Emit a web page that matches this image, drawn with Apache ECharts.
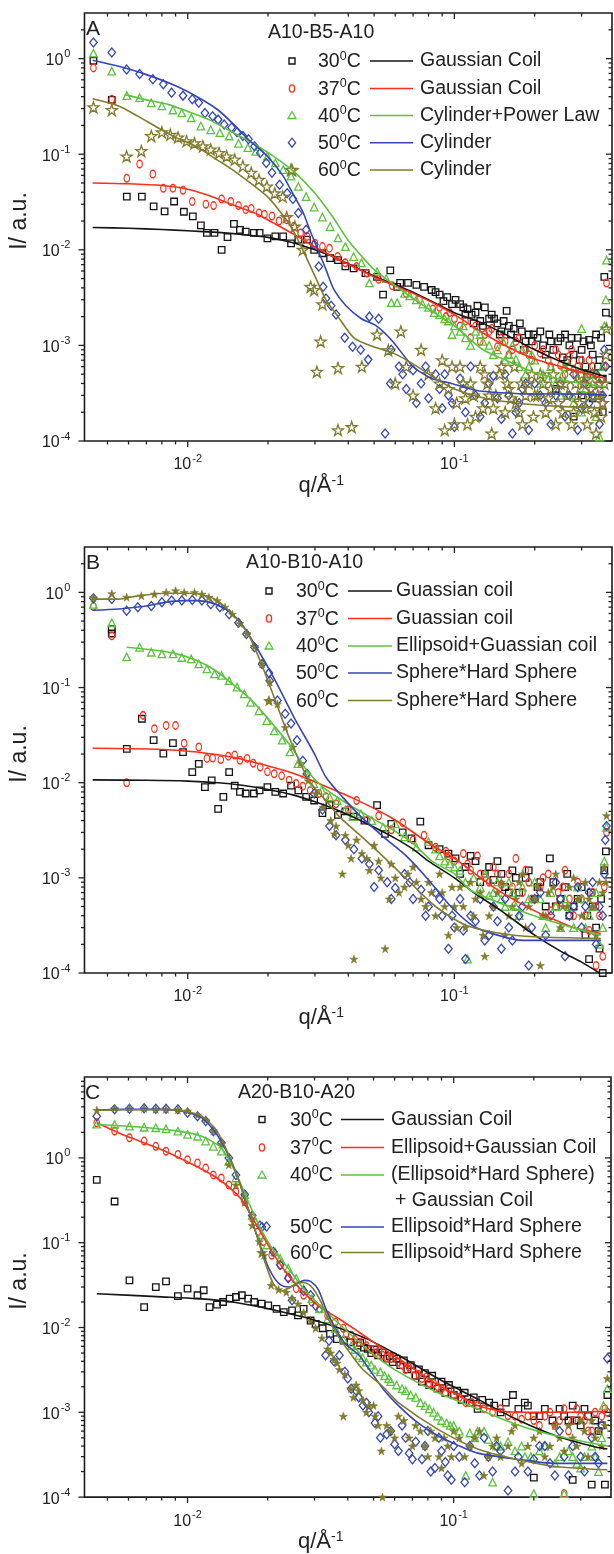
<!DOCTYPE html>
<html><head><meta charset="utf-8">
<script src="https://cdn.jsdelivr.net/npm/echarts@6/dist/echarts.min.js"></script>
<style>html,body{margin:0;padding:0;background:#fff}#c{width:614px;height:1554px}</style>
</head><body><div id="c"></div>
<script>
// ---------------- axis ranges & ticks ----------------
const Q_MIN = 0.0041, Q_MAX = 0.39;
const I_MIN = 1e-4;
const I_MAX = [3, 3, 9];
const xMajorTicks = [0.01, 0.1];
const xMinorTicks = [0.005,0.006,0.007,0.008,0.009,0.02,0.03,0.04,0.05,0.06,0.07,0.08,0.09,0.2,0.3];
const yMajorTicks = [1e-4,1e-3,1e-2,1e-1,1];
const yMinorTicks = [2e-4,3e-4,4e-4,5e-4,6e-4,7e-4,8e-4,9e-4,2e-3,3e-3,4e-3,5e-3,6e-3,7e-3,8e-3,9e-3,
  0.02,0.03,0.04,0.05,0.06,0.07,0.08,0.09,0.2,0.3,0.4,0.5,0.6,0.7,0.8,0.9,2,3,4,5,6,7,8,9];

// ---------------- text ----------------
const panelLetters = ['A','B','C'];
const legendTitles = ['A10-B5-A10','A10-B10-A10','A20-B10-A20'];
const tempLabels = ['30','37','40','50','60'];
const fitLabelsA = ['Gaussian Coil','Gaussian Coil','Cylinder+Power Law','Cylinder','Cylinder'];
const fitLabelsB = ['Guassian coil','Guassian coil','Ellipsoid+Guassian coil','Sphere*Hard Sphere','Sphere*Hard Sphere'];
const fitLabelsC = ['Gaussian Coil','Ellipsoid+Gaussian Coil','(Ellipsoid*Hard Sphere)','Ellipsoid*Hard Sphere','Ellipsoid*Hard Sphere'];
const fitLabelC40cont = '+ Gaussian Coil';

// ---------------- Panel A data [q, I] ----------------
const A30 = [[0.00443,0.95],[0.00519,0.37],[0.00591,0.036],[0.00673,0.036],[0.00745,0.0285],[0.00819,0.0252],[0.00889,0.032],[0.00967,0.025],[0.01045,0.0224],[0.0112,0.018],[0.0118,0.015],[0.0126,0.015],[0.0134,0.010],[0.0141,0.0136],[0.0149,0.0187],[0.0157,0.0162],[0.0165,0.0155],[0.0177,0.015],[0.0186,0.015],[0.0199,0.0132],[0.0213,0.0138],[0.0228,0.0138],[0.0244,0.0117],[0.026,0.0128],[0.028,0.0128],[0.0298,0.0100],[0.032,0.0092],[0.0342,0.0082],[0.0366,0.0078],[0.039,0.0067],[0.0419,0.0064],[0.0464,0.0057],[0.0513,0.0052],[0.054,0.0034],[0.0575,0.0061],[0.061,0.0041],[0.0626,0.0045],[0.067,0.0045],[0.072,0.0043],[0.077,0.0041],[0.0822,0.0038],[0.088,0.0034],[0.094,0.0032],[0.101,0.0030],[0.105,0.0027],[0.108,0.0025],[0.112,0.0024],[0.116,0.0021],[0.12,0.0022],[0.125,0.0018],[0.13,0.0025],[0.135,0.0019],[0.141,0.0019],[0.145,0.0017],[0.15,0.0014],[0.157,0.0023],[0.16,0.0016],[0.167,0.0015],[0.172,0.0012],[0.179,0.0014],[0.185,0.0011],[0.19,0.0013],[0.198,0.0013],[0.205,0.0012],[0.215,0.0010],[0.227,0.0013],[0.235,0.0009],[0.245,0.0011],[0.255,0.00075],[0.26,0.0013],[0.27,0.0010],[0.28,0.0008],[0.29,0.0012],[0.3,0.0009],[0.31,0.0006],[0.32,0.00114],[0.33,0.0008],[0.34,0.0013],[0.35,0.0007],[0.36,0.00045],[0.365,0.0052],[0.37,0.0022],[0.28,0.00018],[0.33,0.00028],
  [0.085,0.0036],[0.091,0.0029],[0.098,0.0027],[0.11,0.0021],[0.118,0.0017],[0.122,0.0026],[0.128,0.0016],[0.138,0.0021],[0.148,0.0013],[0.153,0.0018],[0.163,0.0013],[0.176,0.0017],[0.182,0.0009],[0.195,0.0011],[0.21,0.0014],[0.22,0.0008],[0.23,0.0011],[0.25,0.0012],[0.265,0.0007],[0.275,0.0012],[0.295,0.0007],[0.305,0.0011],[0.315,0.0005],[0.325,0.001],[0.345,0.0006],[0.355,0.0012],[0.24,0.00035],[0.3,0.0003],[0.36,0.0002]];
const A37 = [[0.00443,0.80],[0.00519,0.375],[0.00591,0.056],[0.0066,0.079],[0.0074,0.062],[0.0081,0.044],[0.0088,0.044],[0.0096,0.042],[0.0104,0.032],[0.0117,0.030],[0.0125,0.029],[0.0134,0.034],[0.0145,0.032],[0.0155,0.029],[0.0165,0.0263],[0.0173,0.027],[0.0185,0.0243],[0.0194,0.0235],[0.0207,0.0226],[0.022,0.020],[0.0235,0.0206],[0.025,0.0175],[0.0265,0.015],[0.028,0.0138],[0.030,0.0117],[0.032,0.0108],[0.034,0.0104],[0.0365,0.0085],[0.039,0.0073],[0.043,0.0067],[0.047,0.0057],[0.052,0.0049],[0.0585,0.0042],[0.066,0.0035],[0.074,0.0030],[0.083,0.0024],[0.093,0.0020],[0.10,0.0019],[0.105,0.0016],[0.115,0.0012],[0.12,0.0016],[0.13,0.0013],[0.138,0.0015],[0.145,0.00097],[0.155,0.0011],[0.165,0.0009],[0.175,0.0012],[0.19,0.0008],[0.2,0.0010],[0.21,0.00083],[0.225,0.0007],[0.24,0.0009],[0.25,0.00062],[0.27,0.00077],[0.285,0.0005],[0.3,0.0007],[0.31,0.00045],[0.33,0.0006],[0.35,0.0004],[0.36,0.00025],[0.372,0.0045],
  [0.088,0.0025],[0.096,0.0022],[0.11,0.0018],[0.125,0.0011],[0.135,0.0014],[0.15,0.0012],[0.16,0.0008],[0.17,0.0011],[0.185,0.0009],[0.195,0.0007],[0.215,0.0009],[0.23,0.0006],[0.245,0.0008],[0.26,0.0005],[0.275,0.0009],[0.29,0.0006],[0.305,0.0004],[0.32,0.0007],[0.34,0.0005],[0.355,0.0003],[0.365,0.0006]];
const A40 = [[0.00443,1.14],[0.00519,0.74],[0.00591,0.41],[0.0066,0.39],[0.0073,0.345],[0.0080,0.32],[0.0088,0.29],[0.0095,0.27],[0.0103,0.24],[0.0112,0.197],[0.0122,0.18],[0.0132,0.168],[0.0143,0.155],[0.0155,0.13],[0.0168,0.117],[0.018,0.107],[0.0199,0.095],[0.0213,0.081],[0.0228,0.069],[0.0244,0.059],[0.026,0.046],[0.0278,0.036],[0.0298,0.028],[0.032,0.022],[0.0342,0.0175],[0.0366,0.0133],[0.039,0.0108],[0.0419,0.0085],[0.0448,0.0073],[0.048,0.0045],[0.0513,0.0059],[0.0555,0.0050],[0.058,0.0028],[0.061,0.0028],[0.065,0.0035],[0.072,0.0030],[0.08,0.0025],[0.088,0.0021],[0.095,0.0018],[0.10,0.0016],[0.105,0.0014],[0.11,0.0012],[0.12,0.0014],[0.128,0.0011],[0.135,0.0010],[0.145,0.0009],[0.152,0.0011],[0.16,0.0008],[0.17,0.00072],[0.18,0.0009],[0.19,0.0006],[0.2,0.0007],[0.215,0.0005],[0.23,0.0006],[0.24,0.0004],[0.255,0.0005],[0.27,0.0003],[0.29,0.00045],[0.3,0.0015],[0.31,0.00035],[0.33,0.0004],[0.35,0.0003],[0.372,0.0078],[0.37,0.003],
  [0.068,0.0033],[0.076,0.0027],[0.084,0.0022],[0.092,0.0019],[0.098,0.0013],[0.108,0.0016],[0.115,0.001],[0.125,0.0013],[0.14,0.0008],[0.155,0.0007],[0.165,0.001],[0.175,0.0006],[0.185,0.0005],[0.195,0.0008],[0.21,0.0004],[0.225,0.00045],[0.25,0.0003],[0.26,0.0006],[0.28,0.00025],[0.3,0.0002],[0.32,0.0005],[0.34,0.00018],[0.36,0.0006],[0.365,0.0016],[0.35,0.00011]];
const A50 = [[0.00443,1.47],[0.00519,1.16],[0.0059,0.77],[0.0066,0.69],[0.0074,0.61],[0.0081,0.54],[0.0087,0.44],[0.0096,0.41],[0.0104,0.375],[0.011,0.345],[0.0116,0.27],[0.0124,0.25],[0.013,0.23],[0.0137,0.205],[0.0146,0.19],[0.0153,0.17],[0.0161,0.155],[0.0169,0.143],[0.0178,0.121],[0.0187,0.103],[0.0197,0.081],[0.0207,0.064],[0.0221,0.048],[0.0236,0.039],[0.0248,0.034],[0.026,0.0243],[0.0278,0.0162],[0.0298,0.0113],[0.031,0.0067],[0.0322,0.0041],[0.033,0.0031],[0.0345,0.0026],[0.036,0.0021],[0.0388,0.0012],[0.0415,0.00097],[0.0445,0.0009],[0.0475,0.00071],[0.048,0.002],[0.052,0.0019],[0.055,0.00012],[0.0575,0.0004],[0.062,0.0006],[0.066,0.00035],[0.07,0.00055],[0.075,0.0004],[0.08,0.00028],[0.085,0.0005],[0.09,0.00022],[0.095,0.0003],[0.1,0.00014],[0.105,0.00045],[0.11,0.0002],[0.12,0.0003],[0.13,0.00025],[0.14,0.00048],[0.15,0.00017],[0.16,0.0003],[0.17,0.0002],[0.18,0.00035],[0.19,0.00013],[0.2,0.0004],[0.22,0.00025],[0.24,0.0003],[0.26,0.00018],[0.28,0.0005],[0.3,0.00022],[0.33,0.0003],[0.35,0.00015],[0.37,0.0006],
  [0.058,0.0009],[0.064,0.0005],[0.072,0.00025],[0.078,0.0006],[0.088,0.00035],[0.092,0.0005],[0.098,0.00025],[0.108,0.00035],[0.115,0.0006],[0.125,0.00018],[0.135,0.0004],[0.145,0.00028],[0.155,0.0005],[0.165,0.00012],[0.175,0.00025],[0.185,0.0004],[0.21,0.0003],[0.23,0.00015],[0.25,0.0004],[0.27,0.0003],[0.29,0.00013],[0.31,0.0004],[0.32,0.00025],[0.34,0.0005],[0.36,0.0003],[0.365,0.0009]];
const A60 = [[0.00443,0.31],[0.00519,0.29],[0.0059,0.095],[0.0067,0.108],[0.0073,0.155],[0.0080,0.17],[0.0086,0.16],[0.0092,0.15],[0.0099,0.137],[0.0106,0.13],[0.0114,0.121],[0.0122,0.112],[0.0131,0.103],[0.014,0.095],[0.015,0.088],[0.0161,0.075],[0.0173,0.064],[0.0185,0.054],[0.0198,0.046],[0.0212,0.039],[0.0227,0.036],[0.0244,0.069],[0.0235,0.022],[0.0252,0.0175],[0.027,0.010],[0.0289,0.0041],[0.0298,0.0038],[0.032,0.0027],[0.0315,0.0011],[0.0305,0.00053],[0.0366,0.00058],[0.0366,0.00013],[0.0412,0.00014],[0.045,0.0006],[0.0513,0.0013],[0.0565,0.00089],[0.06,0.0004],[0.063,0.0014],[0.066,0.0006],[0.07,0.0003],[0.075,0.0009],[0.08,0.0005],[0.085,0.00022],[0.09,0.0007],[0.095,0.00035],[0.1,0.00015],[0.105,0.0006],[0.11,0.00028],[0.115,0.0004],[0.12,0.00018],[0.13,0.0005],[0.135,0.0003],[0.14,0.00022],[0.15,0.0006],[0.16,0.00035],[0.17,0.00025],[0.18,0.00015],[0.19,0.0004],[0.2,0.0003],[0.21,0.0005],[0.22,0.0002],[0.23,0.00035],[0.245,0.00025],[0.26,0.0004],[0.275,0.00015],[0.29,0.0003],[0.3,0.0005],[0.31,0.00022],[0.325,0.00035],[0.34,0.00012],[0.35,0.0004],[0.36,0.00025],[0.372,0.0015],
  [0.088,0.0004],[0.092,0.00013],[0.098,0.0006],[0.102,0.00025],[0.108,0.0004],[0.112,0.00015],[0.118,0.0003],[0.125,0.0006],[0.128,0.00022],[0.133,0.0004],[0.138,0.00012],[0.143,0.0003],[0.148,0.0005],[0.155,0.0002],[0.158,0.0004],[0.163,0.00028],[0.168,0.0006],[0.175,0.0002],[0.178,0.0004],[0.185,0.0003],[0.195,0.0005],[0.198,0.00018],[0.205,0.0003],[0.215,0.0004],[0.225,0.00028],[0.235,0.0005],[0.24,0.00015],[0.25,0.0004],[0.255,0.0002],[0.265,0.0003],[0.27,0.0006],[0.28,0.0002],[0.285,0.0004],[0.295,0.00025],[0.305,0.0004],[0.315,0.00015],[0.32,0.0003],[0.33,0.0005],[0.335,0.0002],[0.345,0.0003],[0.355,0.00018],[0.365,0.0004],[0.37,0.0008]];
const fitA30 = [[0.0044,0.0171],[0.006,0.0168],[0.008,0.0163],[0.01,0.0158],[0.013,0.0152],[0.016,0.0145],[0.02,0.0135],[0.025,0.0118],[0.03,0.0100],[0.035,0.0085],[0.04,0.0071],[0.05,0.0053],[0.06,0.0043],[0.07,0.0036],[0.08,0.0030],[0.1,0.0022],[0.128,0.0017],[0.16,0.00125],[0.2,0.0009],[0.25,0.00068],[0.3,0.00056],[0.37,0.00047]];
const fitA37 = [[0.0044,0.05],[0.006,0.049],[0.008,0.047],[0.01,0.043],[0.012,0.037],[0.015,0.029],[0.018,0.024],[0.021,0.019],[0.025,0.0145],[0.03,0.0107],[0.035,0.0085],[0.042,0.0066],[0.05,0.0052],[0.06,0.0042],[0.07,0.0035],[0.085,0.0027],[0.1,0.0021],[0.128,0.00135],[0.16,0.00095],[0.2,0.00072],[0.25,0.0006],[0.3,0.00052],[0.37,0.00045]];
const fitA40 = [[0.0058,0.42],[0.007,0.37],[0.0085,0.33],[0.01,0.28],[0.012,0.23],[0.015,0.165],[0.018,0.125],[0.021,0.095],[0.025,0.066],[0.03,0.039],[0.035,0.022],[0.04,0.0125],[0.045,0.0085],[0.05,0.0062],[0.06,0.0042],[0.07,0.0031],[0.08,0.0024],[0.1,0.0016],[0.128,0.0009],[0.16,0.00068],[0.2,0.00052],[0.25,0.00044],[0.3,0.0004],[0.37,0.00037]];
const fitA50 = [[0.0044,0.96],[0.0055,0.83],[0.007,0.68],[0.009,0.52],[0.011,0.39],[0.013,0.29],[0.015,0.2],[0.017,0.14],[0.0199,0.095],[0.0228,0.059],[0.025,0.037],[0.027,0.025],[0.029,0.015],[0.031,0.0095],[0.033,0.0062],[0.0354,0.0038],[0.0392,0.0026],[0.0448,0.0019],[0.051,0.0016],[0.0587,0.0011],[0.07,0.0006],[0.0824,0.00045],[0.0975,0.0004],[0.12,0.00034],[0.15,0.00032],[0.2,0.00031],[0.3,0.00031],[0.37,0.0003]];
const fitA60 = [[0.0044,0.38],[0.0055,0.32],[0.0065,0.25],[0.0077,0.19],[0.009,0.15],[0.0108,0.12],[0.0125,0.092],[0.0147,0.069],[0.017,0.051],[0.0199,0.036],[0.022,0.026],[0.0244,0.0175],[0.027,0.010],[0.030,0.0053],[0.033,0.0030],[0.0366,0.0020],[0.042,0.0012],[0.05,0.00096],[0.059,0.00083],[0.07,0.00064],[0.085,0.00045],[0.1,0.00035],[0.13,0.00028],[0.17,0.00025],[0.25,0.00023],[0.37,0.00022]];

// ---------------- Panel B data ----------------
const B30 = [[0.00519,0.41],[0.00519,0.37],[0.00591,0.0227],[0.00673,0.047],[0.00745,0.028],[0.0081,0.0202],[0.0088,0.026],[0.0096,0.021],[0.0104,0.0129],[0.011,0.0158],[0.0116,0.009],[0.0123,0.0106],[0.013,0.0053],[0.0136,0.0071],[0.0143,0.0129],[0.015,0.0093],[0.0157,0.0080],[0.0165,0.0077],[0.0177,0.0077],[0.0186,0.0083],[0.0199,0.009],[0.0213,0.008],[0.0228,0.0077],[0.0244,0.0093],[0.026,0.0083],[0.0278,0.0071],[0.0298,0.0065],[0.032,0.0048],[0.034,0.0058],[0.0366,0.0046],[0.039,0.005],[0.0419,0.0044],[0.046,0.0040],[0.0513,0.0058],[0.0549,0.0029],[0.058,0.0037],[0.064,0.0030],[0.069,0.0026],[0.0745,0.0039],[0.08,0.0022],[0.088,0.0020],[0.095,0.0018],[0.101,0.0016],[0.11,0.0013],[0.12,0.0015],[0.13,0.0011],[0.14,0.00095],[0.145,0.0015],[0.155,0.0008],[0.165,0.0012],[0.175,0.0007],[0.185,0.0010],[0.2,0.0006],[0.21,0.0009],[0.228,0.0016],[0.24,0.0005],[0.26,0.0008],[0.27,0.0004],[0.29,0.0006],[0.31,0.00025],[0.33,0.0005],[0.35,0.00018],[0.37,0.0019],
  [0.105,0.0011],[0.115,0.0017],[0.125,0.0009],[0.135,0.0013],[0.15,0.0011],[0.16,0.0007],[0.17,0.001],[0.19,0.0012],[0.205,0.0008],[0.22,0.0005],[0.235,0.0009],[0.25,0.0006],[0.265,0.0011],[0.28,0.0005],[0.3,0.0008],[0.315,0.0004],[0.325,0.0007],[0.34,0.0003],[0.355,0.0006],[0.365,0.0012],[0.32,0.00014],[0.36,0.0001]];
const B37 = [[0.00443,0.71],[0.00519,0.35],[0.0059,0.0100],[0.0068,0.051],[0.0075,0.037],[0.0083,0.040],[0.009,0.040],[0.0097,0.026],[0.011,0.0237],[0.0118,0.018],[0.0124,0.0182],[0.0133,0.0175],[0.0142,0.019],[0.015,0.0195],[0.0157,0.0172],[0.0167,0.018],[0.0176,0.016],[0.0187,0.0146],[0.0199,0.0130],[0.0211,0.0124],[0.0225,0.0118],[0.024,0.0106],[0.0255,0.0098],[0.027,0.0092],[0.0288,0.0083],[0.031,0.0077],[0.033,0.0071],[0.036,0.006],[0.04,0.0052],[0.043,0.0065],[0.047,0.004],[0.052,0.0045],[0.058,0.0032],[0.064,0.0038],[0.07,0.0025],[0.077,0.0028],[0.085,0.0021],[0.093,0.0019],[0.1,0.0015],[0.108,0.0018],[0.115,0.0012],[0.122,0.0017],[0.13,0.001],[0.14,0.0013],[0.15,0.00085],[0.16,0.0011],[0.17,0.0016],[0.18,0.0007],[0.19,0.0009],[0.2,0.0006],[0.215,0.0010],[0.23,0.00045],[0.245,0.0007],[0.26,0.0012],[0.28,0.0004],[0.3,0.0006],[0.32,0.00028],[0.34,0.0005],[0.36,0.00015],[0.372,0.003],
  [0.095,0.0017],[0.112,0.0014],[0.125,0.0011],[0.135,0.0009],[0.145,0.0011],[0.165,0.0008],[0.185,0.0012],[0.195,0.0006],[0.21,0.0008],[0.225,0.0011],[0.24,0.0005],[0.255,0.0008],[0.27,0.0006],[0.29,0.0009],[0.31,0.0004],[0.33,0.0007],[0.35,0.0004],[0.365,0.0008],[0.34,0.00012]];
const B40 = [[0.00443,0.75],[0.00519,0.48],[0.0059,0.21],[0.0066,0.265],[0.0073,0.235],[0.008,0.226],[0.0088,0.226],[0.0095,0.207],[0.0103,0.2],[0.011,0.177],[0.0118,0.157],[0.0126,0.139],[0.0134,0.134],[0.0143,0.118],[0.0153,0.101],[0.0163,0.086],[0.0172,0.07],[0.0185,0.057],[0.0198,0.045],[0.0211,0.035],[0.0226,0.028],[0.0242,0.0211],[0.0259,0.0159],[0.0277,0.0124],[0.0297,0.0098],[0.0318,0.0083],[0.034,0.0071],[0.0364,0.0065],[0.039,0.0052],[0.0417,0.0044],[0.0446,0.0047],[0.049,0.004],[0.054,0.0034],[0.06,0.0037],[0.065,0.0027],[0.072,0.0021],[0.08,0.0024],[0.088,0.0017],[0.096,0.0014],[0.105,0.0012],[0.112,0.00014],[0.118,0.0010],[0.125,0.0008],[0.135,0.00065],[0.145,0.0009],[0.155,0.0005],[0.165,0.0007],[0.175,0.0004],[0.19,0.0006],[0.2,0.0009],[0.215,0.0004],[0.23,0.0007],[0.25,0.0003],[0.27,0.0005],[0.29,0.0008],[0.31,0.0003],[0.33,0.0005],[0.35,0.0002],[0.372,0.0034],
  [0.085,0.002],[0.092,0.0015],[0.1,0.0013],[0.11,0.0009],[0.13,0.0011],[0.14,0.0007],[0.15,0.0006],[0.16,0.0009],[0.17,0.0005],[0.18,0.0008],[0.21,0.0006],[0.22,0.0003],[0.24,0.0005],[0.26,0.0006],[0.28,0.0003],[0.3,0.0006],[0.32,0.0004],[0.34,0.0007],[0.36,0.0003],[0.365,0.0015]];
const B50 = [[0.00443,0.87],[0.00519,0.85],[0.0059,0.64],[0.0065,0.70],[0.0073,0.72],[0.008,0.79],[0.0087,0.82],[0.0095,0.82],[0.0104,0.83],[0.0113,0.82],[0.0122,0.75],[0.0132,0.70],[0.0143,0.59],[0.0155,0.48],[0.0166,0.366],[0.0178,0.265],[0.019,0.177],[0.0203,0.118],[0.0217,0.073],[0.0232,0.053],[0.0244,0.042],[0.0257,0.028],[0.027,0.017],[0.028,0.0124],[0.0298,0.0077],[0.032,0.0052],[0.034,0.0035],[0.036,0.0028],[0.039,0.0025],[0.042,0.0020],[0.045,0.0016],[0.048,0.0014],[0.052,0.0012],[0.056,0.0009],[0.06,0.00078],[0.065,0.0011],[0.07,0.0006],[0.075,0.00075],[0.08,0.0005],[0.085,0.0007],[0.09,0.0004],[0.095,0.00018],[0.1,0.0003],[0.105,0.0006],[0.11,0.00014],[0.12,0.00035],[0.13,0.00022],[0.14,0.0005],[0.15,0.00018],[0.16,0.0003],[0.175,0.0004],[0.19,0.00012],[0.2,0.0006],[0.22,0.00025],[0.24,0.0009],[0.26,0.00015],[0.28,0.0005],[0.3,0.0003],[0.32,0.0007],[0.34,0.0002],[0.36,0.0004],[0.372,0.0035],
  [0.05,0.0008],[0.058,0.0006],[0.068,0.0009],[0.078,0.0004],[0.088,0.0006],[0.098,0.0004],[0.108,0.00028],[0.115,0.0004],[0.125,0.0006],[0.135,0.00025],[0.145,0.00035],[0.155,0.0006],[0.165,0.00022],[0.18,0.0005],[0.195,0.0003],[0.21,0.0007],[0.23,0.0004],[0.25,0.0006],[0.27,0.0004],[0.29,0.0008],[0.31,0.0005],[0.33,0.0009],[0.35,0.0005],[0.365,0.0011],[0.368,0.0025]];
const B60 = [[0.00443,0.88],[0.00519,0.97],[0.0059,0.89],[0.0067,0.92],[0.0075,0.96],[0.0083,1.0],[0.009,1.04],[0.0097,1.0],[0.0106,1.0],[0.0113,0.96],[0.012,0.89],[0.0129,0.82],[0.0138,0.70],[0.0147,0.59],[0.0157,0.47],[0.0167,0.37],[0.0178,0.27],[0.019,0.177],[0.0201,0.073],[0.0203,0.114],[0.0217,0.067],[0.0232,0.038],[0.0248,0.0237],[0.0265,0.016],[0.0283,0.0105],[0.0302,0.0077],[0.0322,0.0055],[0.0344,0.004],[0.0355,0.0029],[0.038,0.0011],[0.04,0.0022],[0.042,0.00014],[0.045,0.0018],[0.048,0.0012],[0.052,0.0015],[0.055,0.00018],[0.057,0.0006],[0.06,0.001],[0.065,0.0008],[0.07,0.0013],[0.075,0.0006],[0.08,0.0009],[0.085,0.0004],[0.09,0.0007],[0.095,0.00025],[0.1,0.0005],[0.105,0.0008],[0.11,0.0003],[0.12,0.0006],[0.13,0.00015],[0.135,0.0004],[0.145,0.0007],[0.155,0.00025],[0.165,0.0005],[0.175,0.0009],[0.185,0.0003],[0.2,0.0006],[0.21,0.00012],[0.22,0.0004],[0.235,0.0008],[0.25,0.0003],[0.265,0.0005],[0.28,0.001],[0.3,0.0004],[0.32,0.0006],[0.34,0.00025],[0.36,0.0007],[0.372,0.0045],
  [0.036,0.0035],[0.039,0.0028],[0.041,0.0016],[0.043,0.0025],[0.047,0.0016],[0.05,0.0022],[0.053,0.001],[0.058,0.0014],[0.062,0.0007],[0.067,0.0011],[0.072,0.0009],[0.078,0.0005],[0.082,0.0007],[0.088,0.0011],[0.092,0.0005],[0.098,0.0008],[0.102,0.0003],[0.108,0.0005],[0.115,0.0009],[0.118,0.0004],[0.125,0.0007],[0.128,0.00025],[0.14,0.0005],[0.15,0.0009],[0.16,0.0004],[0.17,0.0006],[0.18,0.0011],[0.19,0.0005],[0.205,0.0008],[0.215,0.0004],[0.225,0.0007],[0.24,0.0011],[0.255,0.0005],[0.27,0.0008],[0.29,0.0006],[0.31,0.0009],[0.33,0.0005],[0.35,0.0009],[0.365,0.0013],[0.37,0.0009]];
const fitB30 = [[0.0044,0.0107],[0.007,0.0106],[0.01,0.0104],[0.013,0.0100],[0.016,0.0094],[0.02,0.0085],[0.025,0.0074],[0.03,0.0063],[0.035,0.0054],[0.04,0.0046],[0.05,0.0034],[0.06,0.0026],[0.07,0.002],[0.08,0.0015],[0.1,0.001],[0.12,0.00068],[0.15,0.00045],[0.2,0.00025],[0.25,0.00017],[0.3,0.00013],[0.35,0.0001]];
const fitB37 = [[0.0044,0.023],[0.0077,0.0225],[0.0108,0.021],[0.0147,0.0185],[0.02,0.015],[0.025,0.0125],[0.03,0.0102],[0.042,0.0068],[0.0587,0.0042],[0.0824,0.0022],[0.1,0.0016],[0.115,0.0012],[0.14,0.0008],[0.162,0.00062],[0.2,0.00045],[0.228,0.00038],[0.28,0.0003],[0.354,0.00026]];
const fitB40 = [[0.0059,0.265],[0.0077,0.245],[0.0091,0.226],[0.0108,0.192],[0.0127,0.151],[0.0147,0.109],[0.0174,0.073],[0.0199,0.048],[0.0244,0.024],[0.028,0.0134],[0.032,0.0091],[0.038,0.0065],[0.048,0.0044],[0.0587,0.0032],[0.07,0.0023],[0.0824,0.0015],[0.1,0.0011],[0.115,0.00074],[0.16,0.0005],[0.23,0.00035],[0.354,0.00025]];
const fitB50 = [[0.0044,0.65],[0.0055,0.67],[0.007,0.72],[0.0083,0.79],[0.0097,0.82],[0.0108,0.82],[0.012,0.79],[0.0138,0.67],[0.0158,0.48],[0.0181,0.265],[0.0213,0.118],[0.025,0.049],[0.0299,0.020],[0.033,0.0114],[0.038,0.0071],[0.0446,0.0044],[0.0542,0.0027],[0.066,0.0017],[0.08,0.00095],[0.097,0.0005],[0.118,0.00031],[0.145,0.00025],[0.18,0.00022],[0.228,0.00022],[0.354,0.00022]];
const fitB60 = [[0.0044,0.85],[0.0055,0.85],[0.0065,0.92],[0.0082,0.98],[0.0099,0.98],[0.0113,0.95],[0.0129,0.82],[0.0147,0.59],[0.0168,0.37],[0.0189,0.177],[0.0213,0.073],[0.024,0.030],[0.0265,0.0158],[0.029,0.0098],[0.033,0.0065],[0.037,0.0044],[0.045,0.0027],[0.055,0.0016],[0.068,0.0009],[0.085,0.0005],[0.11,0.00032],[0.15,0.00026],[0.2,0.00024],[0.354,0.00023]];

// ---------------- Panel C data ----------------
const C30 = [[0.00456,0.55],[0.00532,0.306],[0.00605,0.036],[0.00687,0.0174],[0.0076,0.030],[0.0083,0.035],[0.0092,0.0235],[0.01,0.0287],[0.0109,0.024],[0.0115,0.0275],[0.0121,0.0174],[0.0129,0.0186],[0.0136,0.020],[0.0144,0.0219],[0.0152,0.0229],[0.016,0.024],[0.0169,0.0219],[0.0178,0.020],[0.019,0.0191],[0.0201,0.0182],[0.0216,0.0166],[0.023,0.0152],[0.0247,0.0159],[0.026,0.0139],[0.0273,0.0166],[0.029,0.0121],[0.0303,0.011],[0.0322,0.0098],[0.0343,0.0084],[0.0364,0.0073],[0.0386,0.0070],[0.041,0.0067],[0.0435,0.0061],[0.046,0.0058],[0.049,0.005],[0.052,0.0047],[0.056,0.0043],[0.059,0.0039],[0.063,0.0036],[0.067,0.0032],[0.072,0.0027],[0.076,0.0023],[0.081,0.0021],[0.087,0.0019],[0.093,0.0017],[0.1,0.0016],[0.107,0.0014],[0.115,0.0013],[0.123,0.0011],[0.136,0.0013],[0.15,0.0010],[0.167,0.0016],[0.185,0.0013],[0.2,0.0009],[0.22,0.0011],[0.25,0.0011],[0.27,0.0008],[0.28,0.0012],[0.3,0.0007],[0.32,0.0009],[0.35,0.0006],[0.2,0.00017],[0.33,0.00014],[0.378,0.0016],
  [0.0445,0.0066],[0.0475,0.0056],[0.0505,0.0055],[0.054,0.0051],[0.0575,0.0046],[0.061,0.0043],[0.065,0.0041],[0.069,0.0036],[0.074,0.0032],[0.078,0.0029],[0.083,0.0027],[0.09,0.0023],[0.096,0.0021],[0.103,0.0018],[0.11,0.0017],[0.119,0.0015],[0.128,0.0014],[0.142,0.0012],[0.157,0.0013],[0.175,0.0011],[0.19,0.0012],[0.21,0.0009],[0.235,0.0008],[0.26,0.0009],[0.29,0.0008],[0.31,0.0011],[0.34,0.0008],[0.36,0.0007],[0.28,0.00016],[0.37,0.00014]];
const C37 = [[0.00456,2.6],[0.00532,2.07],[0.00605,1.73],[0.00687,1.58],[0.0076,1.37],[0.0083,1.2],[0.0092,1.1],[0.01,0.95],[0.0109,0.87],[0.0117,0.76],[0.0125,0.63],[0.0134,0.58],[0.0143,0.48],[0.0152,0.40],[0.0164,0.306],[0.0175,0.195],[0.0184,0.135],[0.0193,0.103],[0.0207,0.071],[0.0223,0.054],[0.0239,0.039],[0.0256,0.0287],[0.0273,0.024],[0.0293,0.020],[0.0313,0.0166],[0.0336,0.0139],[0.0359,0.0116],[0.0385,0.0098],[0.0412,0.0081],[0.044,0.0067],[0.047,0.0061],[0.0506,0.005],[0.054,0.0047],[0.058,0.0043],[0.062,0.0039],[0.066,0.0032],[0.071,0.0027],[0.076,0.0025],[0.081,0.0022],[0.087,0.002],[0.093,0.0017],[0.1,0.0016],[0.111,0.0013],[0.123,0.0012],[0.14,0.0010],[0.16,0.00091],[0.18,0.00083],[0.2,0.0008],[0.22,0.0009],[0.24,0.0007],[0.26,0.0011],[0.28,0.0008],[0.3,0.0009],[0.32,0.0006],[0.34,0.0010],[0.26,0.00011],[0.378,0.001],
  [0.0395,0.0085],[0.0425,0.0072],[0.0455,0.0069],[0.049,0.0055],[0.0525,0.0054],[0.056,0.0044],[0.06,0.0045],[0.064,0.0036],[0.068,0.0034],[0.074,0.0028],[0.079,0.0026],[0.084,0.0022],[0.09,0.0019],[0.096,0.0019],[0.105,0.0015],[0.117,0.0013],[0.13,0.0011],[0.15,0.0011],[0.17,0.0009],[0.19,0.0009],[0.21,0.0007],[0.23,0.001],[0.25,0.0008],[0.27,0.0006],[0.29,0.0011],[0.31,0.0008],[0.33,0.0006],[0.36,0.0009],[0.37,0.0011]];
const C40 = [[0.00456,2.5],[0.00532,2.48],[0.00605,2.37],[0.00687,2.3],[0.0076,2.27],[0.0083,2.2],[0.0092,2.07],[0.01,1.89],[0.0109,1.8],[0.0117,1.58],[0.0125,1.37],[0.0134,1.2],[0.0143,0.91],[0.0152,0.58],[0.0164,0.37],[0.0175,0.21],[0.0189,0.123],[0.0199,0.094],[0.0213,0.078],[0.0223,0.065],[0.0239,0.05],[0.0256,0.038],[0.0273,0.0287],[0.0293,0.0219],[0.0313,0.0166],[0.0336,0.0126],[0.0359,0.0098],[0.0385,0.0073],[0.0412,0.0061],[0.044,0.0047],[0.047,0.0039],[0.0506,0.0032],[0.055,0.0027],[0.058,0.0023],[0.064,0.0019],[0.069,0.0016],[0.075,0.0013],[0.081,0.0011],[0.087,0.0009],[0.094,0.00075],[0.1,0.0007],[0.111,0.00018],[0.115,0.00057],[0.123,0.0006],[0.135,0.00048],[0.14,0.00015],[0.15,0.0004],[0.17,0.00035],[0.185,0.0003],[0.2,0.00011],[0.21,0.00035],[0.24,0.00025],[0.26,0.00011],[0.28,0.0003],[0.3,0.00022],[0.33,0.0004],[0.35,0.0002],[0.378,0.0019],
  [0.0425,0.0055],[0.0455,0.0044],[0.049,0.0036],[0.053,0.003],[0.057,0.0025],[0.061,0.0021],[0.066,0.0018],[0.072,0.0015],[0.078,0.0012],[0.084,0.001],[0.09,0.0008],[0.097,0.0007],[0.105,0.0006],[0.12,0.0005],[0.13,0.0006],[0.145,0.0004],[0.16,0.00045],[0.18,0.0004],[0.195,0.0003],[0.22,0.0004],[0.25,0.0003],[0.27,0.00035],[0.29,0.00025],[0.31,0.0003],[0.34,0.0003],[0.36,0.0005],[0.365,0.0012]];
const C50 = [[0.00456,3.1],[0.00532,3.74],[0.00605,3.8],[0.00687,3.85],[0.0076,3.8],[0.0083,3.8],[0.0092,3.74],[0.01,3.4],[0.0109,3.1],[0.0117,2.72],[0.0125,2.07],[0.0134,1.51],[0.0143,1.0],[0.0152,0.63],[0.0164,0.37],[0.0175,0.21],[0.0187,0.16],[0.0198,0.155],[0.021,0.078],[0.0223,0.055],[0.0239,0.038],[0.0247,0.021],[0.0273,0.027],[0.029,0.024],[0.0303,0.018],[0.033,0.0047],[0.034,0.007],[0.0372,0.0047],[0.039,0.003],[0.0412,0.0019],[0.043,0.0018],[0.0456,0.0012],[0.048,0.001],[0.0506,0.00075],[0.053,0.0005],[0.056,0.00055],[0.06,0.00042],[0.064,0.0007],[0.068,0.00033],[0.072,0.00045],[0.076,0.00028],[0.08,0.0006],[0.085,0.00022],[0.09,0.00035],[0.095,0.00018],[0.1,0.0004],[0.105,0.0003],[0.11,0.00015],[0.12,0.00025],[0.13,0.0005],[0.14,0.0002],[0.15,0.00035],[0.16,0.00012],[0.175,0.0003],[0.19,0.0002],[0.21,0.0004],[0.23,0.00025],[0.25,0.0006],[0.27,0.00018],[0.3,0.0003],[0.33,0.0005],[0.35,0.00025],[0.378,0.0043],
  [0.0355,0.004],[0.04,0.0025],[0.044,0.0015],[0.047,0.0013],[0.052,0.0009],[0.058,0.0006],[0.062,0.00035],[0.066,0.0005],[0.07,0.00028],[0.078,0.0004],[0.082,0.0002],[0.088,0.0005],[0.093,0.00026],[0.098,0.00016],[0.115,0.0004],[0.125,0.00018],[0.135,0.0003],[0.145,0.0004],[0.17,0.0002],[0.2,0.00028],[0.22,0.0004],[0.24,0.00018],[0.26,0.0003],[0.28,0.0004],[0.31,0.0002],[0.34,0.0003],[0.36,0.0007]];
const C60 = [[0.00456,3.65],[0.00532,3.84],[0.00605,3.84],[0.00687,3.84],[0.0076,3.75],[0.0083,3.75],[0.0092,3.7],[0.01,3.58],[0.0109,3.2],[0.0117,2.8],[0.0125,2.07],[0.0134,1.45],[0.0143,0.83],[0.0152,0.48],[0.0164,0.3],[0.0175,0.16],[0.0186,0.103],[0.0194,0.071],[0.0206,0.0315],[0.022,0.028],[0.0235,0.026],[0.0247,0.022],[0.026,0.019],[0.0273,0.015],[0.029,0.012],[0.0303,0.0098],[0.032,0.0075],[0.0336,0.0056],[0.0355,0.0042],[0.0372,0.0032],[0.0385,0.0009],[0.041,0.0019],[0.043,0.0021],[0.0456,0.0014],[0.048,0.0012],[0.0506,0.0009],[0.0535,0.00035],[0.054,0.0001],[0.056,0.0007],[0.06,0.0005],[0.065,0.0008],[0.07,0.0004],[0.075,0.0006],[0.08,0.0003],[0.085,0.0005],[0.09,0.00022],[0.095,0.0004],[0.1,0.0006],[0.11,0.0003],[0.12,0.0005],[0.13,0.00018],[0.14,0.0004],[0.15,0.0003],[0.165,0.0006],[0.18,0.00025],[0.2,0.0005],[0.22,0.0003],[0.24,0.0007],[0.26,0.00035],[0.28,0.0005],[0.3,0.0008],[0.32,0.0003],[0.35,0.0006],[0.378,0.0025],
  [0.0345,0.005],[0.0365,0.0038],[0.039,0.0028],[0.042,0.0015],[0.044,0.0018],[0.047,0.001],[0.05,0.0012],[0.052,0.0007],[0.058,0.0006],[0.062,0.0009],[0.068,0.0005],[0.072,0.0007],[0.078,0.0004],[0.082,0.0006],[0.088,0.0003],[0.092,0.0005],[0.098,0.0003],[0.105,0.0005],[0.115,0.0004],[0.125,0.0006],[0.135,0.0003],[0.145,0.0005],[0.16,0.0004],[0.17,0.0007],[0.19,0.0004],[0.21,0.0006],[0.23,0.0004],[0.25,0.0005],[0.27,0.0007],[0.29,0.0004],[0.31,0.0006],[0.33,0.0008],[0.34,0.0005],[0.36,0.0004],[0.37,0.0007]];
const fitC30 = [[0.00456,0.025],[0.008,0.023],[0.0109,0.0219],[0.0148,0.020],[0.0201,0.0166],[0.0303,0.0121],[0.0456,0.0077],[0.062,0.0047],[0.0873,0.0025],[0.123,0.00143],[0.172,0.00083],[0.242,0.00053],[0.341,0.00039],[0.378,0.00037]];
const fitC37 = [[0.00456,2.6],[0.0057,1.89],[0.008,1.25],[0.0105,0.83],[0.0129,0.58],[0.0158,0.335],[0.0182,0.16],[0.0208,0.078],[0.0239,0.041],[0.0273,0.026],[0.0314,0.0175],[0.0372,0.0126],[0.0441,0.0088],[0.0523,0.0061],[0.062,0.0043],[0.0735,0.003],[0.0873,0.0021],[0.1035,0.0016],[0.123,0.0012],[0.146,0.00105],[0.172,0.001],[0.25,0.001],[0.378,0.00103]];
const fitC40 = [[0.00456,2.48],[0.00675,2.3],[0.0092,2.07],[0.0113,1.8],[0.0134,1.31],[0.0153,0.63],[0.0169,0.306],[0.0188,0.148],[0.0208,0.086],[0.0239,0.05],[0.0273,0.0287],[0.0314,0.0182],[0.0372,0.011],[0.0441,0.0067],[0.0523,0.0043],[0.062,0.003],[0.0873,0.0017],[0.123,0.0011],[0.172,0.00072],[0.242,0.00053],[0.378,0.0004]];
const fitC50 = [[0.00456,3.65],[0.0057,3.74],[0.008,3.74],[0.0095,3.58],[0.0113,2.98],[0.0129,1.89],[0.0148,0.83],[0.0164,0.335],[0.0182,0.123],[0.0195,0.065],[0.0208,0.042],[0.0223,0.032],[0.024,0.03],[0.0258,0.033],[0.0275,0.036],[0.029,0.035],[0.031,0.028],[0.033,0.017],[0.0355,0.0105],[0.039,0.0065],[0.0441,0.0047],[0.0489,0.003],[0.0542,0.0019],[0.062,0.0012],[0.0735,0.00075],[0.0873,0.00053],[0.1035,0.00041],[0.123,0.00033],[0.172,0.00028],[0.242,0.00025],[0.378,0.00025]];
const fitC60 = [[0.00456,3.65],[0.0057,3.7],[0.008,3.7],[0.0095,3.6],[0.0113,3.1],[0.0129,2.07],[0.0148,0.83],[0.0164,0.335],[0.0182,0.123],[0.0195,0.06],[0.021,0.033],[0.0225,0.027],[0.024,0.029],[0.0258,0.033],[0.0273,0.034],[0.029,0.031],[0.0303,0.026],[0.032,0.019],[0.0336,0.013],[0.0372,0.0075],[0.0412,0.0048],[0.0456,0.0032],[0.0542,0.002],[0.062,0.0013],[0.0873,0.00063],[0.123,0.00037],[0.172,0.00028],[0.242,0.00023],[0.378,0.00021]];

// ---------------- styling (not data) ----------------
const FONT = "'Liberation Sans', Arial, Helvetica, sans-serif";
const COLORS = ['#151515', '#ff2f1a', '#5cc33f', '#3546b8', '#807c2c'];
const STAR = 'path://M50,2 L61.8,36.2 L97.6,36.2 L68.6,57.4 L79.6,91.6 L50,70.4 L20.4,91.6 L31.4,57.4 L2.4,36.2 L38.2,36.2 Z';
const GRIDS = [
  {left: 83, top: 13, width: 529, height: 428},
  {left: 83, top: 547, width: 529, height: 426},
  {left: 82, top: 1077, width: 529, height: 428}
];
const LEG = [
  {titleX: 268, titleY: 33, symX: 292, tempX: 318, lx1: 370, lx2: 413, descX: 420, rows: [61, 88.5, 115.5, 142.7, 170]},
  {titleX: 246, titleY: 563, symX: 269, tempX: 296, lx1: 348, lx2: 392, descX: 396, rows: [591, 618.5, 646, 673, 700.5]},
  {titleX: 238, titleY: 1093, symX: 262, tempX: 290, lx1: 341, lx2: 384, descX: 391, rows: [1119.5, 1147.5, 1175, 1227, 1252.5], contY: 1201, contX: 395}
];

const panels = [
  {scat: [A30, A37, A40, A50, A60], fits: [fitA30, fitA37, fitA40, fitA50, fitA60], descs: fitLabelsA, starFilled: false},
  {scat: [B30, B37, B40, B50, B60], fits: [fitB30, fitB37, fitB40, fitB50, fitB60], descs: fitLabelsB, starFilled: true},
  {scat: [C30, C37, C40, C50, C60], fits: [fitC30, fitC37, fitC40, fitC50, fitC60], descs: fitLabelsC, starFilled: true}
];

function expLabel(v) {
  const l = Math.log10(v), e = Math.round(l);
  if (Math.abs(l - e) > 1e-6) return '';
  return '{b|10}{s|' + e + '}';
}
const tickRich = {
  b: {fontSize: 16, fontFamily: FONT, color: '#222', lineHeight: 20, verticalAlign: 'bottom'},
  s: {fontSize: 11, fontFamily: FONT, color: '#222', lineHeight: 20, verticalAlign: 'top', padding: [0, 0, 0, 1]}
};

const xAxes = [], yAxes = [], series = [], graphics = [];

GRIDS.forEach((g, gi) => {
  xAxes.push({
    gridIndex: gi, type: 'log', logBase: 10, min: Q_MIN, max: Q_MAX,
    axisLine: {show: false}, axisTick: {show: false}, splitLine: {show: false},
    axisLabel: {formatter: expLabel, margin: 12, rich: tickRich, showMinLabel: false, showMaxLabel: false},
    name: 'q/Å{s|-1}', nameLocation: 'middle', nameGap: 29,
    nameTextStyle: {fontSize: 22, fontFamily: FONT, color: '#222', padding: [0, 54, 0, 0],
      rich: {s: {fontSize: 14, fontFamily: FONT, color: '#222', verticalAlign: 'top', lineHeight: 24}}}
  });
  yAxes.push({
    gridIndex: gi, type: 'log', logBase: 10, min: I_MIN, max: I_MAX[gi],
    axisLine: {show: false}, axisTick: {show: false}, splitLine: {show: false},
    axisLabel: {formatter: expLabel, margin: 14, rich: tickRich, showMinLabel: true, showMaxLabel: false},
    name: 'I/ a.u.', nameLocation: 'middle', nameGap: 52,
    nameTextStyle: {fontSize: 23, fontFamily: FONT, color: '#222', padding: [0, 0, 0, 12]}
  });

  const P = panels[gi];
  const syms = ['rect', 'circle', 'triangle', 'diamond', STAR];
  const sizes = [6.5, [5.5, 7.5], 7.5, [7.5, 9], P.starFilled ? 8 : 11];
  P.scat.forEach((d, k) => {
    const filled = (k === 4 && P.starFilled);
    series.push({
      type: 'scatter', xAxisIndex: gi, yAxisIndex: gi, data: d, symbol: syms[k], symbolSize: sizes[k],
      itemStyle: {color: filled ? COLORS[k] : 'rgba(0,0,0,0)', borderColor: COLORS[k], borderWidth: filled ? 0.6 : 1.3, opacity: 1},
      emphasis: {disabled: true}, silent: true, z: 2
    });
  });
  P.fits.forEach((d, k) => {
    series.push({
      type: 'line', xAxisIndex: gi, yAxisIndex: gi, data: d, showSymbol: false, symbol: 'none',
      smooth: 0.25, lineStyle: {color: COLORS[k], width: 1.6}, emphasis: {disabled: true}, silent: true, z: 3
    });
  });

  // ticks drawn through the axis scales
  const ticks = [];
  const yMinorHere = yMinorTicks.filter(v => v < I_MAX[gi]);
  xMajorTicks.forEach(v => { ticks.push([v, 0.01, 0, 1]); ticks.push([v, 0.01, 1, 1]); });
  xMinorTicks.forEach(v => { ticks.push([v, 0.01, 0, 0]); ticks.push([v, 0.01, 1, 0]); });
  yMajorTicks.forEach(v => { ticks.push([0.01, v, 2, 1]); ticks.push([0.01, v, 3, 1]); });
  yMinorHere.forEach(v => { ticks.push([0.01, v, 2, 0]); ticks.push([0.01, v, 3, 0]); });
  series.push({
    type: 'custom', xAxisIndex: gi, yAxisIndex: gi, data: ticks, encode: {x: 0, y: 1}, silent: true, clip: false, z: 5,
    renderItem: function (params, api) {
      const cs = params.coordSys;
      const p = api.coord([api.value(0), api.value(1)]);
      const side = api.value(2), len = api.value(3) ? 6 : 3.5;
      let sh;
      if (side === 0) sh = {x1: p[0], y1: cs.y + cs.height, x2: p[0], y2: cs.y + cs.height + len};
      else if (side === 1) sh = {x1: p[0], y1: cs.y, x2: p[0], y2: cs.y + len};
      else if (side === 2) sh = {x1: cs.x, y1: p[1], x2: cs.x - len, y2: p[1]};
      else sh = {x1: cs.x + cs.width, y1: p[1], x2: cs.x + cs.width - len, y2: p[1]};
      return {type: 'line', shape: sh, style: {stroke: '#222', lineWidth: 1.3}};
    }
  });

  // panel letter
  graphics.push({type: 'text', x: g.left + 3, y: g.top + 6, silent: true,
    style: {text: panelLetters[gi], fontSize: 21, fontFamily: FONT, fill: '#222'}});

  // legend
  const L = LEG[gi];
  graphics.push({type: 'text', x: L.titleX, y: L.titleY, silent: true,
    style: {text: legendTitles[gi], fontSize: 19.5, fontFamily: FONT, fill: '#222', verticalAlign: 'middle', textVerticalAlign: 'middle'}});
  L.rows.forEach((ry, k) => {
    const c = COLORS[k], sx = L.symX;
    let shp;
    if (k === 0) shp = {type: 'rect', shape: {x: sx - 3, y: ry - 3, width: 6, height: 6}, style: {fill: 'none', stroke: c, lineWidth: 1.4}};
    else if (k === 1) shp = {type: 'ellipse', shape: {cx: sx, cy: ry, rx: 2.6, ry: 3.6}, style: {fill: 'none', stroke: c, lineWidth: 1.4}};
    else if (k === 2) shp = {type: 'polygon', shape: {points: [[sx, ry - 4], [sx + 4, ry + 3], [sx - 4, ry + 3]]}, style: {fill: 'none', stroke: c, lineWidth: 1.3}};
    else if (k === 3) shp = {type: 'polygon', shape: {points: [[sx, ry - 4.5], [sx + 3.6, ry], [sx, ry + 4.5], [sx - 3.6, ry]]}, style: {fill: 'none', stroke: c, lineWidth: 1.3}};
    else {
      const pts = [], R = P.starFilled ? 4.5 : 6.5, r = R * 0.42;
      for (let i = 0; i < 10; i++) {
        const a = -Math.PI / 2 + i * Math.PI / 5, rr = i % 2 ? r : R;
        pts.push([sx + rr * Math.cos(a), ry + 0.6 + rr * Math.sin(a)]);
      }
      shp = {type: 'polygon', shape: {points: pts}, style: {fill: P.starFilled ? c : 'none', stroke: c, lineWidth: 1.2}};
    }
    shp.silent = true;
    graphics.push(shp);
    graphics.push({type: 'text', x: L.tempX, y: ry, silent: true,
      style: {text: '{b|' + tempLabels[k] + '}{s|0}{b|C}', fill: '#222', verticalAlign: 'middle', textVerticalAlign: 'middle',
        rich: {b: {fontSize: 19.5, fontFamily: FONT, fill: '#222', color: '#222', lineHeight: 22, verticalAlign: 'bottom'},
               s: {fontSize: 12.5, fontFamily: FONT, fill: '#222', color: '#222', lineHeight: 22, verticalAlign: 'top'}}}});
    graphics.push({type: 'line', silent: true, shape: {x1: L.lx1, y1: ry, x2: L.lx2, y2: ry}, style: {stroke: c, lineWidth: 1.6}});
    graphics.push({type: 'text', x: L.descX, y: ry, silent: true,
      style: {text: P.descs[k], fontSize: 19.5, fontFamily: FONT, fill: '#222', verticalAlign: 'middle', textVerticalAlign: 'middle'}});
  });
  if (gi === 2) {
    graphics.push({type: 'text', x: L.contX, y: L.contY, silent: true,
      style: {text: fitLabelC40cont, fontSize: 19.5, fontFamily: FONT, fill: '#222', verticalAlign: 'middle', textVerticalAlign: 'middle'}});
  }
});

const chart = echarts.init(document.getElementById('c'), null, {renderer: 'canvas'});
chart.setOption({
  animation: false,
  backgroundColor: '#fff',
  textStyle: {fontFamily: FONT},
  grid: GRIDS.map(g => Object.assign({show: true, borderColor: '#1c1c1c', borderWidth: 1.6, backgroundColor: 'rgba(0,0,0,0)', containLabel: false}, g)),
  xAxis: xAxes,
  yAxis: yAxes,
  series: series,
  graphic: {elements: graphics}
});
</script>
</body></html>
